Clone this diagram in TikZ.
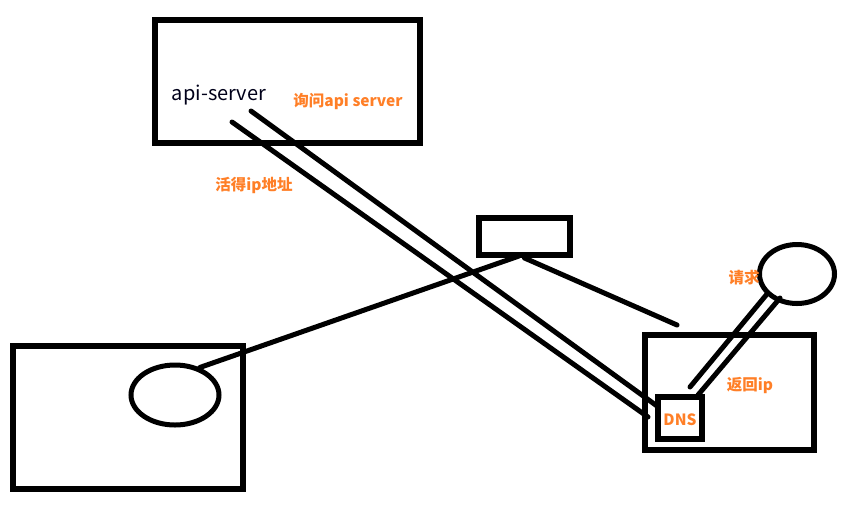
\documentclass[tikz,border=0pt]{standalone}
\usepackage{fontspec}
\setmainfont{Noto Sans CJK SC}
\usetikzlibrary{shapes.geometric}
\definecolor{paintorange}{RGB}{255,127,39}
\tikzset{
  box/.style={draw=black, line width=6pt, rectangle, inner sep=0pt, fill=none},
  ell/.style={draw=black, line width=5pt, ellipse, inner sep=0pt},
  wire/.style={draw=black, line width=5pt, line cap=round},
  note/.style={text=paintorange, font=\fontsize{15.5}{17}\selectfont\bfseries, inner sep=0pt},
  plain/.style={text=black!90!blue, font=\fontsize{20}{22}\selectfont, inner sep=0pt}
}
\begin{document}
\begin{tikzpicture}[x=1pt,y=-1pt]
\useasboundingbox (0,0) rectangle (858,507);
% boxes
\node[box, minimum width=265pt, minimum height=123pt] (top) at (287.5,81.5) {};
\node[box, minimum width=91pt, minimum height=37pt] (small) at (524.5,236.5) {};
\node[box, minimum width=230pt, minimum height=143pt] (left) at (128,417.5) {};
\node[box, minimum width=169pt, minimum height=115pt] (right) at (729.5,392.5) {};
\node[box, minimum width=44pt, minimum height=42pt] (dns) at (680,418) {};
% ellipses
\node[ell, minimum width=88pt, minimum height=60pt] (lell) at (175,395) {};
\node[ell, minimum width=75pt, minimum height=59pt] (rell) at (797,274) {};
% free ends
\coordinate (a1) at (232,122);
\coordinate (a2) at (648,417);
\coordinate (b1) at (251,111);
\coordinate (b2) at (657,406);
\coordinate (r1) at (677,325);
\coordinate (c1) at (690,387);
\coordinate (c2) at (767,294);
\coordinate (d1) at (698,395);
\coordinate (d2) at (780,298);
\coordinate (s1) at (519,256);
% connectors
\draw[wire] (s1) -- (lell.48);
\draw[wire] (small.south) -- (r1);
\draw[wire] (a1) -- (a2);
\draw[wire] (b1) -- (b2);
\draw[wire] (c1) -- (c2);
\draw[wire] (d1) -- (d2);
% texts
\node[plain] (apis) at (219,95) {api-server};
\node[note] (ask) at (348,101) {询问api server};
\node[note] (getip) at (254,185) {活得ip地址};
\node[note] (req) at (744,278) {请求};
\node[note] (ret) at (750,385) {返回ip};
\node[note] (dnst) at (680,420) {DNS};
\end{tikzpicture}
\end{document}
